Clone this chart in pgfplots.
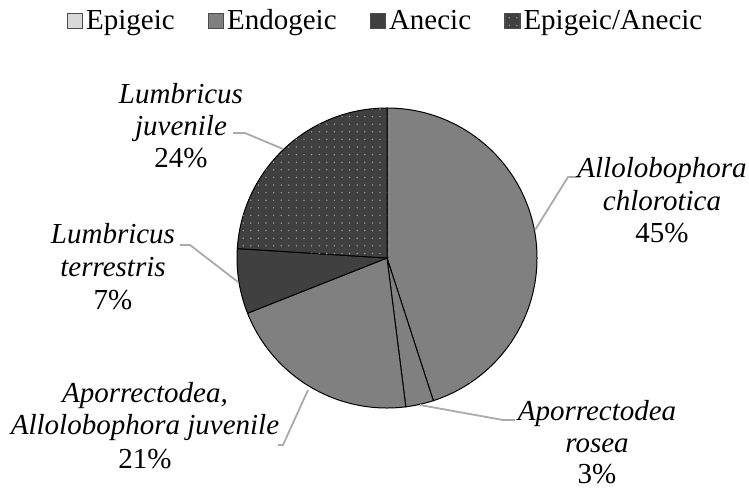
\documentclass[border=0pt]{standalone}
\usepackage{fontspec}
\setmainfont{Liberation Serif}
\usepackage{pgfplots}
\pgfplotsset{compat=1.18}
\usetikzlibrary{patterns.meta}
\definecolor{epi}{RGB}{217,217,217}
\definecolor{endo}{RGB}{128,128,128}
\definecolor{anec}{RGB}{64,64,64}
\definecolor{lead}{RGB}{170,170,170}
\tikzset{
  s-epi/.style={fill=epi},
  s-endo/.style={fill=endo},
  s-anec/.style={fill=anec},
  s-epan/.style={fill=anec,
    postaction={pattern={Dots[distance=3.8pt, radius=0.4pt]}, pattern color=gray!80}},
  lbl/.style={anchor=base, inner sep=0pt, font=\fontsize{14.5}{17}\selectfont},
}
% one label: x, baselines y1 y2 y3, two italic lines, percent
\newcommand\lab[7]{%
  \node[lbl] at (axis cs:#1,#2) {\itshape #5};
  \node[lbl] at (axis cs:#1,#3) {\itshape #6};
  \node[lbl] at (axis cs:#1,#4) {#7};
}
\begin{document}
\begin{tikzpicture}
\begin{axis}[
  scale only axis, width=374.5pt, height=244.5pt,
  xmin=0, xmax=749, ymin=0, ymax=489,
  hide axis, clip=false,
  legend columns=4,
  legend image code/.code={\draw[#1, draw=black!70, line width=0.7pt] (0pt,-3.75pt) rectangle (7.5pt,3.75pt);},
  legend style={draw=none, fill=none, at={(axis cs:386,468)}, anchor=center,
    font=\fontsize{14.5}{17}\selectfont,
    /tikz/every even column/.append style={column sep=15pt},
    nodes={inner xsep=1.5pt}},
]
\addlegendimage{s-epi}\addlegendentry{Epigeic}
\addlegendimage{s-endo}\addlegendentry{Endogeic}
\addlegendimage{s-anec}\addlegendentry{Anecic}
\addlegendimage{s-epan}\addlegendentry{Epigeic/Anecic}

% slices clockwise from 12 o'clock, values in percent
\foreach \v/\s [remember=\b as \a (initially 90)] in {45/s-endo, 3/s-endo, 21/s-endo, 7/s-anec, 24/s-epan}{
  \pgfmathsetmacro\b{\a-3.6*\v}
  \edef\temp{\noexpand\filldraw[\s, draw=black, line width=0.5pt] (axis cs:387,231) -- ++(\a:75pt) arc[start angle=\a, end angle=\b, radius=75pt] -- cycle;}
  \temp
}

% leader lines
\draw[lead, line width=0.9pt] (axis cs:535,259) -- (axis cs:568,312) -- (axis cs:580,312);
\draw[lead, line width=0.9pt] (axis cs:420,84) -- (axis cs:503,69) -- (axis cs:515,69);
\draw[lead, line width=0.9pt] (axis cs:308,99) -- (axis cs:283,44) -- (axis cs:278,44);
\draw[lead, line width=0.9pt] (axis cs:238,207) -- (axis cs:190,244) -- (axis cs:180,244);
\draw[lead, line width=0.9pt] (axis cs:283,340) -- (axis cs:245,356) -- (axis cs:233,356);

\lab{662}{312}{279}{247}{Allolobophora}{chlorotica}{45\%}
\lab{597}{69}{37}{6}{Aporrectodea}{rosea}{3\%}
\lab{145}{87}{55}{21}{Aporrectodea,}{Allolobophora juvenile}{21\%}
\lab{113}{246}{213}{180}{Lumbricus}{terrestris}{7\%}
\lab{181}{386}{354}{322}{Lumbricus}{juvenile}{24\%}
\end{axis}
\pgfresetboundingbox
\path (current axis.south west) rectangle (current axis.north east);
\end{tikzpicture}
\end{document}
